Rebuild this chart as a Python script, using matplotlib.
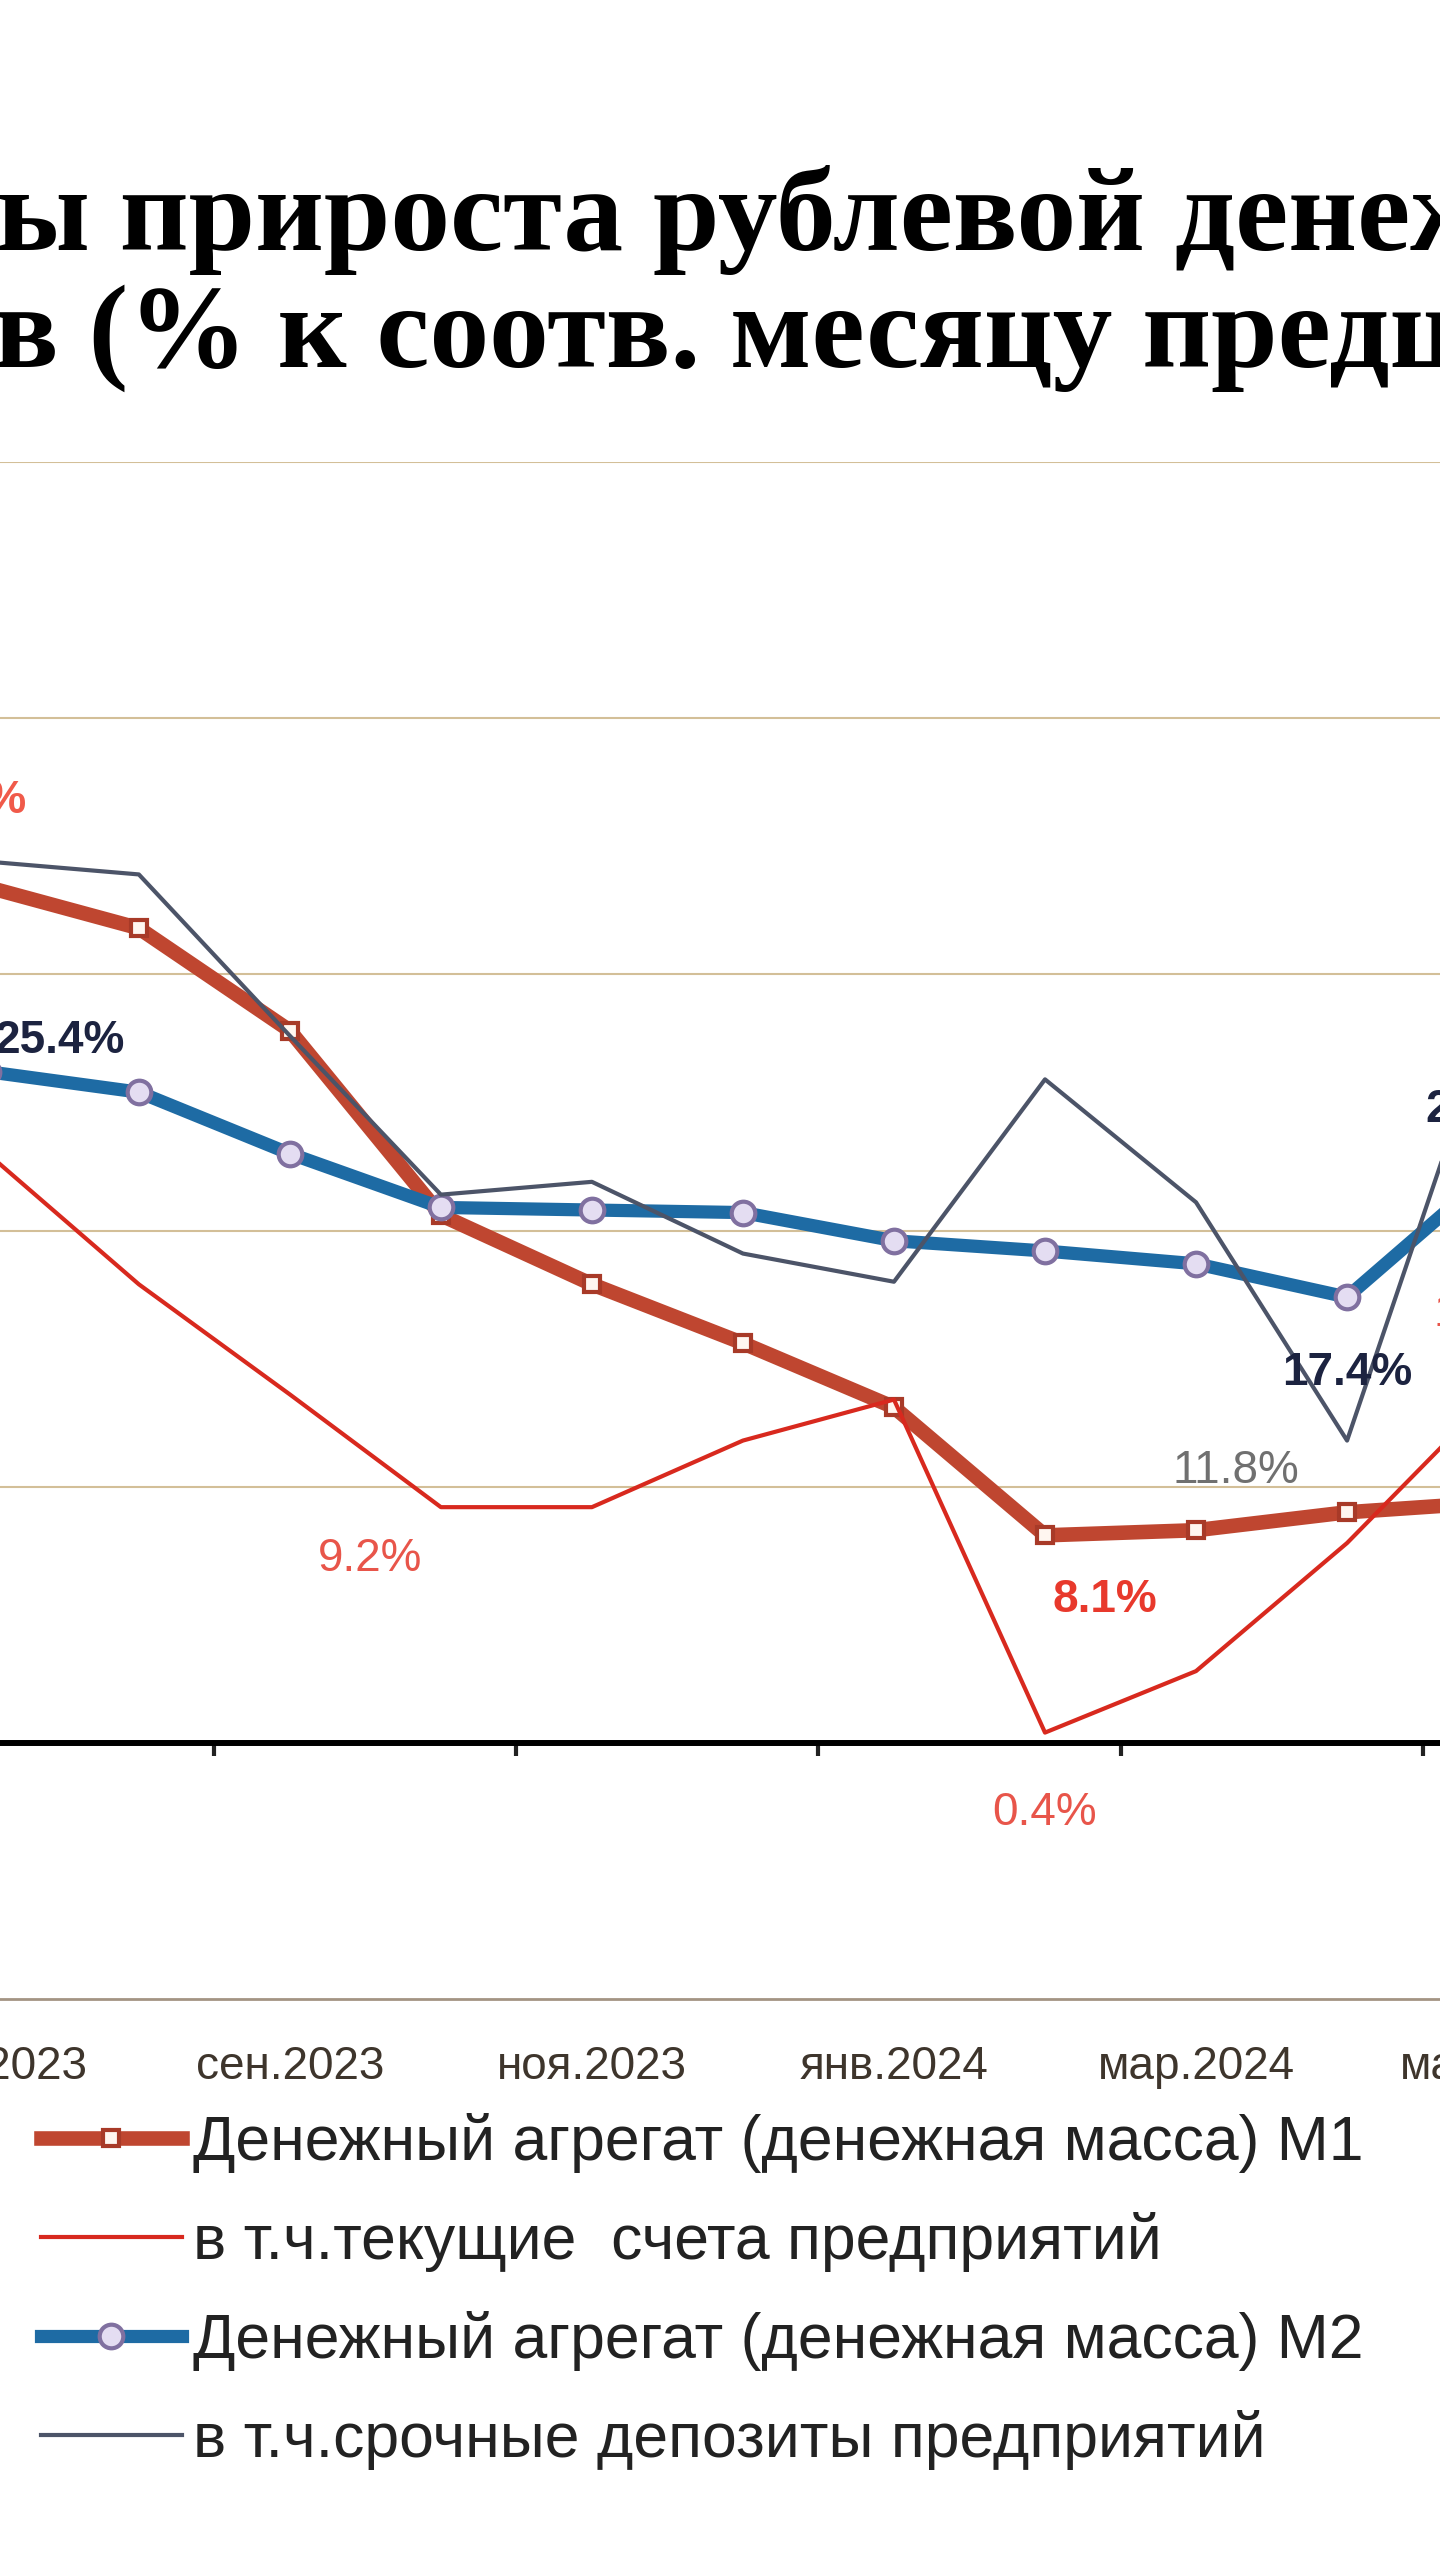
import matplotlib
matplotlib.use("Agg")
import matplotlib.pyplot as plt

# month labels and series (% to same month of previous year)
months = ['июл.2023', 'авг.2023', 'сен.2023', 'окт.2023', 'ноя.2023', 'дек.2023',
          'янв.2024', 'фев.2024', 'мар.2024', 'апр.2024', 'май.2024']
m1 = [33.4, 31.8, 27.8, 20.6, 17.9, 15.6, 13.1, 8.1, 8.3, 9.0, 9.4]
cur_acc = [23.0, 17.9, 13.6, 9.2, 9.2, 11.8, 13.4, 0.4, 2.8, 7.8, 13.8]
m2 = [26.2, 25.4, 23.0, 20.9, 20.8, 20.7, 19.6, 19.2, 18.7, 17.4, 22.5]
term_dep = [34.4, 33.9, 27.6, 21.4, 21.9, 19.1, 18.0, 25.9, 21.1, 11.8, 29.2]

names = ['Денежный агрегат (денежная масса) М1',
         'в т.ч.текущие  счета предприятий',
         'Денежный агрегат (денежная масса) М2',
         'в т.ч.срочные депозиты предприятий']

title1 = 'Темпы прироста рублевой денежной массы и депозитов'
title2 = 'и депозитов (% к соотв. месяцу предшествующего года)'

plt.rcParams['font.family'] = ['Liberation Sans', 'DejaVu Sans']

W, H = 1440, 2560
fig = plt.figure(figsize=(W / 100, H / 100), dpi=100)
fig.patch.set_facecolor('white')

# axes wider than the canvas: the picture is a crop of a longer chart
ax = fig.add_axes([-87.7 / W, 0.21914, 1661.3 / W, 0.60039])
x = list(range(len(months)))
ax.set_xlim(-0.5, len(months) - 0.5)
ax.set_ylim(-10, 50)

ax.set_yticks(range(10, 51, 10))
ax.yaxis.grid(True, color='#D3BF98', lw=1.5)
ax.set_axisbelow(True)
ax.tick_params(axis='y', length=0, labelleft=False)
for s in ['top', 'left', 'right']:
    ax.spines[s].set_visible(False)
ax.spines['bottom'].set_color('#A39483')
ax.spines['bottom'].set_linewidth(2)

ax.set_xticks(x[::2])
ax.set_xticklabels(months[::2], fontsize=33, color='#3E352C')
ax.tick_params(axis='x', length=0, pad=33)

# zero line with ticks between category pairs
zero = ax.secondary_xaxis((0 - (-10)) / 60)
zero.spines['bottom'].set_color('black')
zero.spines['bottom'].set_linewidth(4.3)
zero.set_xticks([i + 0.5 for i in x[1:-1:2]])
zero.set_xticklabels([])
zero.tick_params(axis='x', direction='out', length=9, width=3, color='#222222')

ln_m1, = ax.plot(x, m1, color='#BF4630', lw=10.5, marker='s', ms=12,
                 mfc='#FFF6F0', mec='#A83A28', mew=3, zorder=3)
ln_cur, = ax.plot(x, cur_acc, color='#D8291E', lw=3, zorder=4)
ln_m2, = ax.plot(x, m2, color='#1E6BA4', lw=9.5, marker='o', ms=17,
                 mfc='#E4DDF2', mec='#8070A0', mew=3, zorder=5)
ln_term, = ax.plot(x, term_dep, color='#4C5468', lw=3, zorder=6)

# data labels: (series, index, dx, dy in pixels, colour, weight)
labels = [
    (m1, 0, -26, 86, '#F05A4A', 'bold'),
    (m2, 1, -79, 51, '#1C2340', 'bold'),
    (cur_acc, 3, -71, -52, '#E8554A', 'normal'),
    (m1, 7, 60, -65, '#E8392C', 'bold'),
    (cur_acc, 7, 0, -80, '#E8554A', 'normal'),
    (term_dep, 9, -111, -30, '#707070', 'normal'),
    (m2, 9, 0, -76, '#1C2340', 'bold'),
    (m2, 10, -8, 56, '#1C2340', 'bold'),
    (cur_acc, 10, 0, 75, '#E8554A', 'normal'),
]
for ser, i, dx, dy, col, wt in labels:
    ax.annotate(f'{ser[i]:.1f}%', xy=(i, ser[i]), xytext=(dx, dy),
                textcoords='offset pixels', ha='center', va='center',
                fontsize=33, color=col, fontweight=wt, zorder=8)

# title, cut on both sides like in the reference
r = fig.canvas.get_renderer()
tfont = dict(family=['Liberation Serif', 'DejaVu Serif'], fontsize=86, fontweight='bold')
tmp = fig.text(0, 0, 'Темп', **tfont)
w1 = tmp.get_window_extent(r).width
tmp.set_text('и депозито')
w2 = tmp.get_window_extent(r).width
tmp.remove()
fig.text(-(w1 + 3) / W, 0.9023, title1, ha='left', va='baseline', color='black', **tfont)
fig.text(-(w2 + 3) / W, 0.8566, title2, ha='left', va='baseline', color='black', **tfont)

fig.legend([ln_m1, ln_cur, ln_m2, ln_term], names, loc='upper left',
           bbox_to_anchor=(41 / W, 0.1745), frameon=False, borderpad=0,
           borderaxespad=0, handlelength=2.25, handletextpad=0.18,
           labelspacing=0.62, fontsize=45, numpoints=1, labelcolor='#222222')

fig.savefig('out.png', dpi=100, facecolor='white')
